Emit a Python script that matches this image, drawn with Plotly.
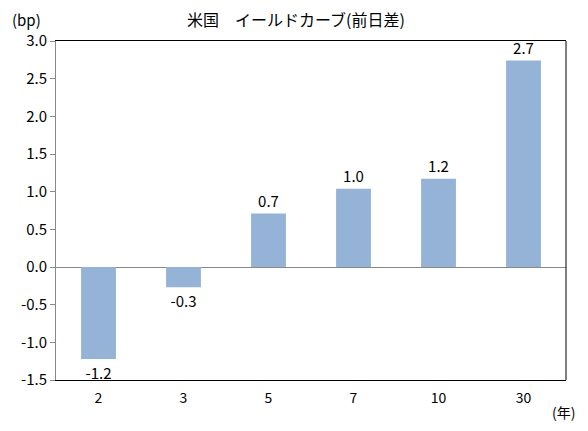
import plotly.graph_objects as go

# 年限ごとの前日差 (bp)
maturities = ['2', '3', '5', '7', '10', '30']
changes = [-1.22, -0.27, 0.71, 1.04, 1.17, 2.74]
labels = [f'{v:.1f}' for v in changes]
y_ticks = [-1.5, -1.0, -0.5, 0.0, 0.5, 1.0, 1.5, 2.0, 2.5, 3.0]

font_family = 'Noto Sans CJK JP'

fig = go.Figure()
fig.add_trace(go.Bar(
    x=maturities,
    y=changes,
    text=labels,
    textposition='outside',
    textfont=dict(size=15, color='black', family=font_family),
    marker=dict(color='#95B3D7', line_width=0),
    width=0.41,
    cliponaxis=False,
))

# page body has an 8px margin, so the figure is a bit smaller than the window
fig.update_layout(
    width=572,
    height=415,
    margin=dict(l=48, r=14, t=33, b=43),
    plot_bgcolor='white',
    paper_bgcolor='white',
    showlegend=False,
    font=dict(family=font_family, size=14, color='black'),
)

fig.update_xaxes(
    type='category',
    showline=True,
    linecolor='black',
    linewidth=1,
    mirror=True,
    ticks='',
    showgrid=False,
    tickfont=dict(size=14),
    ticklabelstandoff=5,
)
fig.update_yaxes(
    range=[-1.5, 3.0],
    tickvals=y_ticks,
    ticktext=[f'{v:.1f}' for v in y_ticks],
    showline=True,
    linecolor='#898989',
    linewidth=1,
    ticks='outside',
    ticklen=5,
    tickcolor='#898989',
    showgrid=False,
    zeroline=True,
    zerolinecolor='#898989',
    zerolinewidth=1,
    tickfont=dict(size=15),
)

# right border
fig.add_shape(type='line', xref='paper', yref='paper', x0=1, x1=1, y0=0, y1=1,
              line=dict(color='black', width=1))

fig.add_annotation(text='米国　イールドカーブ(前日差)', xref='paper', yref='paper',
                   x=0.47, y=1.0, yshift=22, xanchor='center', yanchor='middle',
                   showarrow=False, font=dict(size=16))
fig.add_annotation(text='(bp)', xref='paper', yref='paper',
                   x=0, xshift=-46, y=1.0, yshift=22, xanchor='left', yanchor='middle',
                   showarrow=False, font=dict(size=15))
fig.add_annotation(text='(年)', xref='paper', yref='paper',
                   x=1, xshift=11, y=0, yshift=-32, xanchor='right', yanchor='middle',
                   showarrow=False, font=dict(size=14))

fig.write_html('out.html')
